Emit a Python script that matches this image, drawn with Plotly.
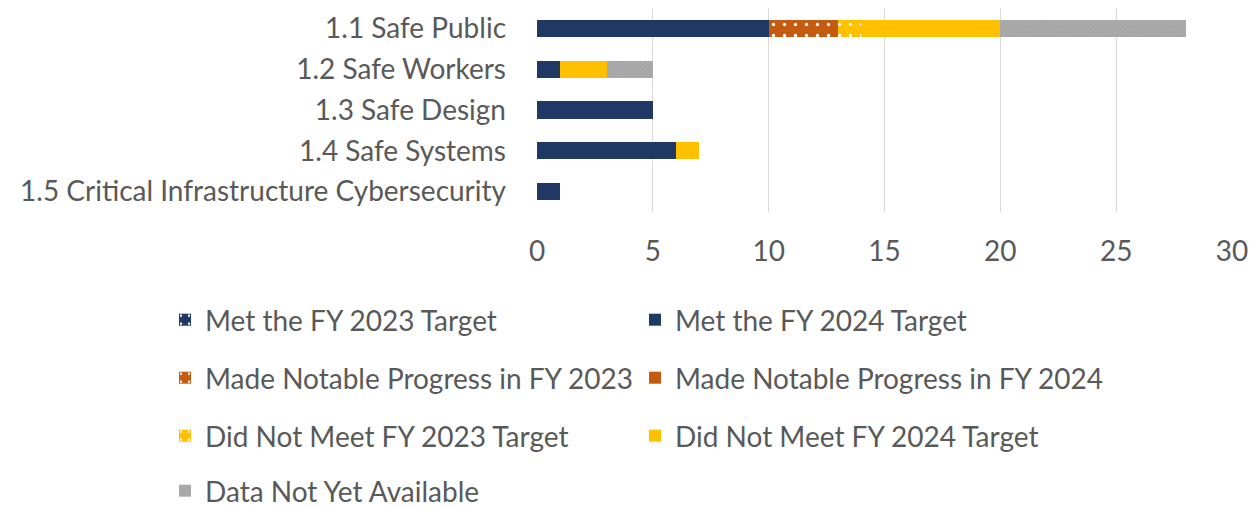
import plotly.graph_objects as go

categories = ["1.1 Safe Public", "1.2 Safe Workers", "1.3 Safe Design",
              "1.4 Safe Systems", "1.5 Critical Infrastructure Cybersecurity"]

met_2023 = [0, 0, 0, 0, 0]
met_2024 = [10, 1, 5, 6, 1]
progress_2023 = [3, 0, 0, 0, 0]
progress_2024 = [0, 0, 0, 0, 0]
notmet_2023 = [1, 0, 0, 0, 0]
notmet_2024 = [6, 2, 0, 1, 0]
not_available = [8, 2, 0, 0, 0]

x_ticks = [0, 5, 10, 15, 20, 25, 30]

NAVY = "#203864"
ORANGE = "#C55A11"
YELLOW = "#FFC000"
GRAY = "#A5A5A5"
TEXT = "#595959"
FONT = "Lato"
FS = 28

series = [
    ("Met the FY 2023 Target", met_2023, NAVY, True),
    ("Met the FY 2024 Target", met_2024, NAVY, False),
    ("Made Notable Progress in FY 2023", progress_2023, ORANGE, True),
    ("Made Notable Progress in FY 2024", progress_2024, ORANGE, False),
    ("Did Not Meet FY 2023 Target", notmet_2023, YELLOW, True),
    ("Did Not Meet FY 2024 Target", notmet_2024, YELLOW, False),
    ("Data Not Yet Available", not_available, GRAY, None),
]

W, H = 1256, 508
L, R, T, B = 537, 24, 8, 296
pw = W - L - R
ph = H - T - B

def px_x(x):
    return (x - L) / pw

def px_y(y):
    return (H - B - y) / ph

# legend item positions (left edge of entry, vertical centre), pixels
col_x = [165, 635]
row_y = [320, 378, 436, 491]

fig = go.Figure()
legend_layout = {}
for i, (name, vals, color, patterned) in enumerate(series):
    if patterned is True:
        pattern = dict(shape=".", fgcolor="white", bgcolor=color,
                       size=11, solidity=0.07, fillmode="replace")
    elif patterned is None:
        pattern = dict(shape="x", fgcolor="#B4B4B4", bgcolor=color,
                       size=3, solidity=0.3, fillmode="replace")
    else:
        pattern = None
    marker = dict(color=color, line=dict(width=0))
    if pattern:
        marker["pattern"] = pattern
    leg = "legend" if i == 0 else f"legend{i + 1}"
    fig.add_trace(go.Bar(
        y=categories, x=vals, name=name, orientation="h",
        marker=marker, legend=leg, showlegend=True,
    ))
    legend_layout[leg] = dict(
        x=px_x(col_x[i % 2]), y=px_y(row_y[i // 2]),
        xanchor="left", yanchor="middle", orientation="v",
        font=dict(family=FONT, size=FS, color=TEXT),
        bgcolor="rgba(0,0,0,0)",
    )

fig.update_layout(
    width=W, height=H,
    margin=dict(l=L, r=R, t=T, b=B, autoexpand=False),
    barmode="stack",
    bargap=0.58,
    plot_bgcolor="white",
    paper_bgcolor="white",
    font=dict(family=FONT, size=FS, color=TEXT),
    xaxis=dict(range=[0, 30], tickvals=x_ticks, showgrid=True,
               gridcolor="#D9D9D9", gridwidth=1, zeroline=False,
               showline=False, ticks="", ticklabelstandoff=20,
               automargin=False,
               tickfont=dict(family=FONT, size=FS, color=TEXT)),
    yaxis=dict(autorange="reversed", showgrid=False, showline=False,
               ticks="", ticklabelstandoff=30, automargin=False,
               tickfont=dict(family=FONT, size=FS, color=TEXT)),
    showlegend=True,
    **legend_layout,
)

fig.write_html("out.html",
               config={"displayModeBar": False},
               post_script="document.body.style.margin='0';document.body.style.padding='0';")
